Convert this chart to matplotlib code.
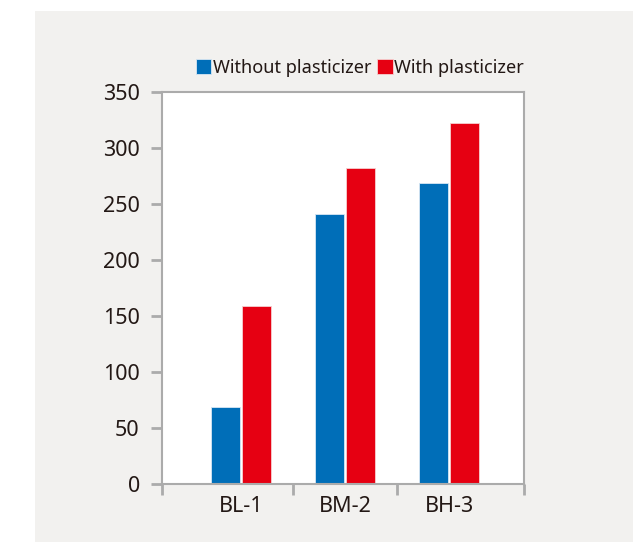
import numpy as np
import matplotlib.pyplot as plt
from matplotlib.patches import Rectangle

plt.rcParams['font.family'] = ['Noto Sans', 'DejaVu Sans']

categories = ['BL-1', 'BM-2', 'BH-3']
without_plasticizer = [69, 241, 269]
with_plasticizer = [159, 282, 322]

blue = '#006EB8'
red = '#E60012'
grey_line = '#ABABAB'

fig = plt.figure(figsize=(6.33, 5.42), dpi=100)
fig.patch.set_facecolor('white')
# grey panel behind the chart
panel = Rectangle((35/633, 0), 1-35/633, 1-11/542, transform=fig.transFigure,
                  facecolor='#F2F1EF', edgecolor='none', zorder=-5)
fig.add_artist(panel)

ax = fig.add_axes([162/633, 58/542, 362/633, 392/542])
ax.set_facecolor('white')

x = np.arange(len(categories))
w = 0.28
ax.bar(x-0.15, without_plasticizer, w, color=blue, edgecolor='#d8e6f3', linewidth=0.6, label='Without plasticizer')
ax.bar(x+0.15, with_plasticizer, w, color=red, edgecolor='#f6d0d0', linewidth=0.6, label='With plasticizer')

ax.set_xlim(-0.76, 2.72)
ax.set_ylim(0, 350)
ax.set_yticks(np.arange(0, 351, 50))
ax.set_xticks(x)
ax.set_xticklabels(categories)
ax.set_xticks([-0.76, 0.5, 1.5, 2.72], minor=True)
ax.tick_params(axis='x', which='major', length=0, pad=9, labelsize=15.5, labelcolor='#231815')
ax.tick_params(axis='x', which='minor', length=8, width=2, color=grey_line, direction='out')
ax.tick_params(axis='y', length=8, width=2, color=grey_line, pad=8, labelsize=15.5, labelcolor='#231815')

for s in ax.spines.values():
    s.set_color(grey_line)
    s.set_linewidth(1.5)

fig.legend(loc='center', bbox_to_anchor=(360/633, 1-68/542), ncol=2, frameon=False,
           fontsize=13.1, handlelength=0.85, handleheight=0.85, handletextpad=0.1,
           columnspacing=0.3, borderpad=0, labelcolor='#231815')

fig.savefig('out.png', dpi=100)
